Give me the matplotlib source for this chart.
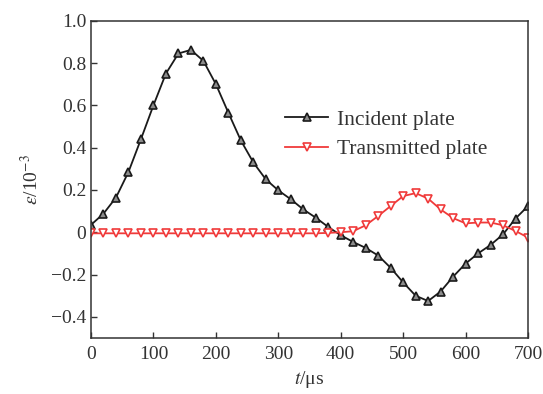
import numpy as np
import matplotlib
matplotlib.use('Agg')
import matplotlib.pyplot as plt

plt.rcParams['font.family'] = ['Liberation Serif', 'DejaVu Serif']
plt.rcParams['mathtext.fontset'] = 'stix'

# time axis, one sample every 20 us
t = np.arange(0, 701, 20)

incident = [0.035, 0.088, 0.164, 0.285, 0.44, 0.60, 0.75, 0.845, 0.862, 0.81,
            0.70, 0.565, 0.434, 0.33, 0.25, 0.198, 0.156, 0.108, 0.069, 0.025,
            -0.014, -0.046, -0.074, -0.11, -0.168, -0.237, -0.30, -0.325, -0.28, -0.21,
            -0.148, -0.10, -0.06, -0.01, 0.065, 0.124]
transmitted = [-0.005, -0.005, -0.005, -0.005, -0.005, -0.005, -0.005, -0.005, -0.005, -0.005,
               -0.005, -0.005, -0.005, -0.005, -0.005, -0.005, -0.005, -0.005, -0.005, -0.003,
               0.0, 0.005, 0.033, 0.077, 0.124, 0.171, 0.185, 0.159, 0.108, 0.067,
               0.042, 0.046, 0.046, 0.033, 0.006, -0.025]

fig = plt.figure(figsize=(5.43, 3.94), dpi=100)
ax = fig.add_axes([0.1676, 0.142, 0.8048, 0.8055])

ax.plot(t, incident, color='#1a1a1a', lw=1.3, marker='^', ms=5.6,
        mfc='#8c8c8c', mec='#1a1a1a', mew=1.2, label='Incident plate')
ax.plot(t, transmitted, color='#f03a3a', lw=1.3, marker='v', ms=5.6,
        mfc='white', mec='#f03a3a', mew=1.2, label='Transmitted plate')

ax.set_xlim(0, 700)
ax.set_ylim(-0.5, 1.0)
ax.set_xticks(range(0, 701, 100))
yt = [-0.4, -0.2, 0, 0.2, 0.4, 0.6, 0.8, 1.0]
ax.set_yticks(yt)
ax.set_yticklabels(['\u22120.4', '\u22120.2', '0', '0.2', '0.4', '0.6', '0.8', '1.0'])
ax.tick_params(direction='in', length=4, width=1, labelsize=14, colors='#333333')
ax.tick_params(axis='x', pad=6)
for s in ax.spines.values():
    s.set_color('#333333')
    s.set_linewidth(1.1)

ax.set_xlabel(r'$t$/μs', fontsize=14, color='#333333', labelpad=4)
ax.set_ylabel(r'$\varepsilon$/10$^{-3}$', fontsize=14, color='#333333', labelpad=6)

ax.legend(loc='upper left', bbox_to_anchor=(0.40, 0.78), frameon=False,
          fontsize=15.5, handlelength=2.0, handletextpad=0.4, labelspacing=0.42,
          labelcolor='#333333')

fig.savefig('out.png', dpi=100)
